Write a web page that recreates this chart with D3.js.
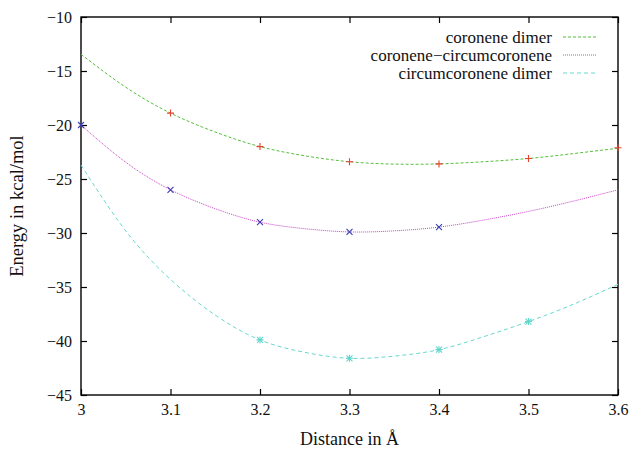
<!DOCTYPE html>
<html>
<head>
<meta charset="utf-8">
<script src="https://cdn.jsdelivr.net/npm/d3@7"></script>
<style>
  body { margin: 0; background: #fff; }
</style>
</head>
<body>
<svg id="chart" width="632" height="452"></svg>
<script>
// measured points (distance in Å, energy in kcal/mol)
const coroneneDist = [3.1, 3.2, 3.3, 3.4, 3.5, 3.6]
const coroneneE = [-18.9, -22.0, -23.4, -23.6, -23.1, -22.1]
const coroCircDist = [3.0, 3.1, 3.2, 3.3, 3.4]
const coroCircE = [-20.0, -26.0, -29.0, -29.9, -29.45]
const circDist = [3.2, 3.3, 3.4, 3.5]
const circE = [-39.9, -41.6, -40.8, -38.2]

// fitted curves, every 0.05 Å
const fitDist = [3.0, 3.05, 3.1, 3.15, 3.2, 3.25, 3.3, 3.35, 3.4, 3.45, 3.5, 3.55, 3.6]
const coroneneFit = [-13.45, -16.5, -18.9, -20.65, -22.0, -22.85, -23.4, -23.62, -23.6, -23.4, -23.1, -22.65, -22.15]
const coroCircFit = [-20.0, -23.45, -26.0, -27.75, -29.0, -29.6, -29.9, -29.8, -29.45, -28.8, -28.0, -27.05, -26.0]
const circFit = [-23.7, -29.8, -34.3, -37.6, -39.9, -41.05, -41.6, -41.4, -40.8, -39.6, -38.2, -36.6, -34.75]

const xTicks = [3, 3.1, 3.2, 3.3, 3.4, 3.5, 3.6]
const yTicks = [-45, -40, -35, -30, -25, -20, -15, -10]

const series = [
    {name: "coronene dimer", dist: coroneneDist, e: coroneneE, fit: coroneneFit,
     line: "#55c03c", dash: "3,2", mark: "#e8412e", shape: "plus"},
    {name: "coronene\u2212circumcoronene", dist: coroCircDist, e: coroCircE, fit: coroCircFit,
     line: "#c844c8", dash: "1,1", mark: "#3b3bb8", shape: "cross"},
    {name: "circumcoronene dimer", dist: circDist, e: circE, fit: circFit,
     line: "#68d8d0", dash: "4,3", mark: "#5fd6cc", shape: "star"}
]

const serif = '"Liberation Serif", "Times New Roman", Times, "DejaVu Serif", serif'
const margin = {top: 17, right: 14, bottom: 57, left: 81}
const width = 632, height = 452
const svg = d3.select("#chart")

const x = d3.scaleLinear().domain([3, 3.6]).range([margin.left, width - margin.right])
const y = d3.scaleLinear().domain([-45, -10]).range([height - margin.bottom, margin.top])

const fmt = d3.format("")

// axes, ticks pointing inward on all four sides
svg.append("g")
    .attr("transform", `translate(0,${y(-45)})`)
    .call(d3.axisBottom(x).tickValues(xTicks).tickFormat(fmt).tickSizeInner(-6).tickSizeOuter(0).tickPadding(9))
svg.append("g")
    .attr("transform", `translate(0,${y(-10)})`)
    .call(d3.axisTop(x).tickValues(xTicks).tickFormat("").tickSizeInner(-6).tickSizeOuter(0))
svg.append("g")
    .attr("transform", `translate(${x(3)},0)`)
    .call(d3.axisLeft(y).tickValues(yTicks).tickFormat(fmt).tickSizeInner(-6).tickSizeOuter(0).tickPadding(9))
svg.append("g")
    .attr("transform", `translate(${x(3.6)},0)`)
    .call(d3.axisRight(y).tickValues(yTicks).tickFormat("").tickSizeInner(-6).tickSizeOuter(0))

svg.selectAll(".domain").remove()
svg.selectAll(".tick line").attr("stroke", "#000").attr("stroke-width", 1.2)
svg.selectAll("g").attr("font-family", null)
svg.selectAll(".tick text").style("font-family", serif).style("font-size", "16px").attr("fill", "#111")

svg.append("rect")
    .attr("x", x(3)).attr("y", y(-10))
    .attr("width", x(3.6) - x(3)).attr("height", y(-45) - y(-10))
    .attr("fill", "none").attr("stroke", "#000").attr("stroke-width", 1.4)

// axis titles
svg.append("text")
    .attr("x", (x(3) + x(3.6)) / 2).attr("y", 445)
    .attr("text-anchor", "middle")
    .style("font-family", serif).style("font-size", "18px").attr("fill", "#111")
    .text("Distance in \u00c5")
svg.append("text")
    .attr("transform", `translate(23,206) rotate(-90)`)
    .attr("text-anchor", "middle")
    .style("font-family", serif).style("font-size", "18.5px").attr("fill", "#111")
    .text("Energy in kcal/mol")

const line = d3.line().x(d => x(d[0])).y(d => y(d[1])).curve(d3.curveNatural)

const plot = svg.append("g")
series.forEach(s => {
    plot.append("path")
        .datum(fitDist.map((d, i) => [d, s.fit[i]]))
        .attr("d", line)
        .attr("fill", "none")
        .attr("stroke", s.line)
        .attr("stroke-width", 1)
        .attr("stroke-dasharray", s.dash)

    const pts = plot.append("g")
        .selectAll("g")
        .data(s.dist.map((d, i) => [d, s.e[i]]))
        .join("g")
        .attr("transform", d => `translate(${x(d[0])},${y(d[1])})`)
    const r = 3.5
    if (s.shape === "plus" || s.shape === "star") {
        pts.append("path").attr("d", `M${-r},0H${r}M0,${-r}V${r}`)
            .attr("stroke", s.mark).attr("stroke-width", 1.1)
    }
    if (s.shape === "cross" || s.shape === "star") {
        pts.append("path").attr("d", `M${-r+0.5},${-r+0.5}L${r-0.5},${r-0.5}M${-r+0.5},${r-0.5}L${r-0.5},${-r+0.5}`)
            .attr("stroke", s.mark).attr("stroke-width", 1.1)
    }
})

// legend
const legend = svg.append("g")
series.forEach((s, i) => {
    const ly = 37 + i * 18
    legend.append("text")
        .attr("x", 552).attr("y", ly).attr("dy", "0.35em")
        .attr("text-anchor", "end")
        .style("font-family", serif).style("font-size", "17px").attr("fill", "#111")
        .text(s.name)
    legend.append("line")
        .attr("x1", 563).attr("x2", 597).attr("y1", ly).attr("y2", ly)
        .attr("stroke", s.line).attr("stroke-width", 1)
        .attr("stroke-dasharray", s.dash)
})
</script>
</body>
</html>
